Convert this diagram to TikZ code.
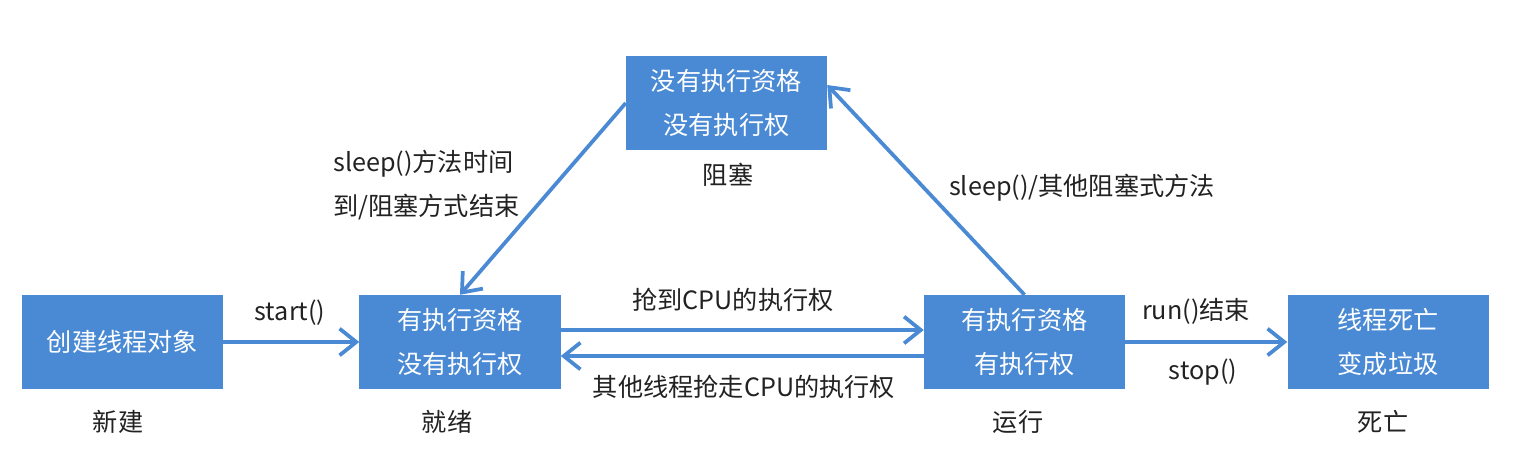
\documentclass[tikz,border=0pt]{standalone}
\usepackage{fontspec}
\setmainfont{Noto Sans CJK SC}
\usetikzlibrary{arrows.meta}
\definecolor{azul}{RGB}{74,138,212}
\definecolor{texto}{RGB}{34,34,34}

\begin{document}
\begin{tikzpicture}[x=0.03cm, y=-0.03cm,
  estado/.style={fill=azul, text=white, minimum width=6.03cm, minimum height=2.82cm,
    inner sep=0pt, align=center, font=\fontsize{21.5pt}{37.5pt}\selectfont},
  etiqueta/.style={text=texto, inner sep=0pt, font=\fontsize{21.5pt}{37.5pt}\selectfont},
  flecha/.style={draw=azul, line width=3.2pt, -{Straight Barb[length=0.5cm, width=0.8cm]}}]
              \useasboundingbox (0,0) rectangle (1534,468);
              % Nodos
              \node[estado] (new) at (122.5,342) {创建线程对象};
              \node[estado] (ready) at (460,342) {有执行资格\\没有执行权};
              \node[estado] (run) at (1024.5,342) {有执行资格\\有执行权};
              \node[estado] (dead) at (1388,342) {线程死亡\\变成垃圾};
              \node[estado] (block) at (726.5,103) {没有执行资格\\没有执行权};

              % Nombres
              \node[etiqueta] (lnew) at (118,422) {新建};
              \node[etiqueta] (lready) at (447,422) {就绪};
              \node[etiqueta] (lrun) at (1018,422) {运行};
              \node[etiqueta] (ldead) at (1383,422) {死亡};
              \node[etiqueta] (lblock) at (728,175) {阻塞};

              % Aristas
              \draw[flecha] (new) -- (ready);
              \draw[flecha] ([yshift=0.36cm]ready.east) -- ([yshift=0.36cm]run.west);
              \draw[flecha] ([yshift=-0.42cm]run.west) -- ([yshift=-0.42cm]ready.east);
              \draw[flecha] (run) -- (dead);
              \draw[flecha] (block.west) -- (ready.north);
              \draw[flecha] (run.north) -- ([yshift=0.54cm]block.east);

              % Textos de las aristas
              \node[etiqueta] (tstart) at (290,313) {start()};
              \node[etiqueta] (tcpu) at (733,300) {抢到CPU的执行权};
              \node[etiqueta] (tother) at (744,387) {其他线程抢走CPU的执行权};
              \node[etiqueta] (trunend) at (1196,311) {run()结束};
              \node[etiqueta] (tstop) at (1203,372) {stop()};
              \node[etiqueta] (tsleep) at (1082,188) {sleep()/其他阻塞式方法};
              \node[etiqueta, anchor=west, align=left] (twake) at (333,185) {sleep()方法时间\\到/阻塞方式结束};
            \end{tikzpicture}
\end{document}
